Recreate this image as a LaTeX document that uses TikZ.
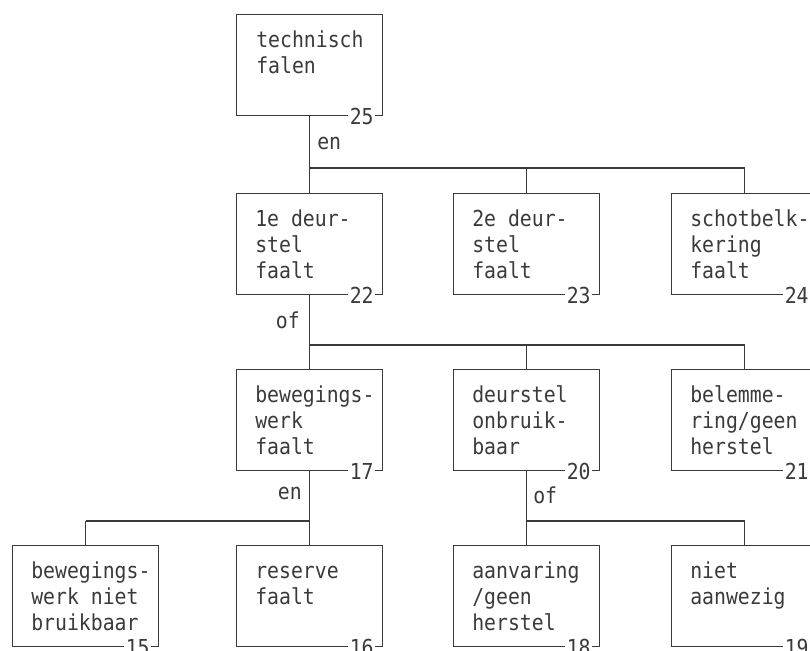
\documentclass[tikz,border=0pt]{standalone}
\usepackage{fontspec}
\newfontfamily\plotfont[FakeStretch=0.9]{DejaVu Sans Mono}
\definecolor{ink}{HTML}{3A3A3A}
\begin{document}
\begin{tikzpicture}[x=0.75pt,y=0.75pt,
  wire/.style={draw=ink,line width=0.9pt},
  eventbox/.style={draw=ink,line width=0.9pt,rectangle,minimum width=109.5pt,
    minimum height=75.75pt,inner sep=0pt,anchor=north west},
  boxtext/.style={anchor=north west,inner sep=0pt,align=left,text=ink,
    font=\plotfont\fontsize{16.5}{19.5}\selectfont},
  tag/.style={anchor=east,fill=white,inner sep=1pt,text=ink,
    font=\plotfont\fontsize{16.5}{19.5}\selectfont},
  gate/.style={inner sep=0pt,text=ink,font=\plotfont\fontsize{16.5}{19.5}\selectfont}]
\useasboundingbox (0,0) rectangle (810,-650);
\clip (0,0) rectangle (810,-650);

% event boxes (top-left corners)
\node[eventbox] (b25) at (236,-14) {};
\node[eventbox] (b22) at (236,-193) {};
\node[eventbox] (b23) at (453,-193) {};
\node[eventbox] (b24) at (671,-193) {};
\node[eventbox] (b17) at (236,-369) {};
\node[eventbox] (b20) at (453,-369) {};
\node[eventbox] (b21) at (671,-369) {};
\node[eventbox] (b15) at (12,-545) {};
\node[eventbox] (b16) at (236,-545) {};
\node[eventbox] (b18) at (453,-545) {};
\node[eventbox] (b19) at (671,-545) {};

% box texts
\node[boxtext] (t25) at ([shift={(20,-14.8)}]b25.north west) {\strut technisch\\falen};
\node[boxtext] (t22) at ([shift={(19,-14.8)}]b22.north west) {\strut 1e deur-\\stel\\faalt};
\node[boxtext] (t23) at ([shift={(19,-14.8)}]b23.north west) {\strut 2e deur-\\stel\\faalt};
\node[boxtext] (t24) at ([shift={(19,-14.8)}]b24.north west) {\strut schotbelk-\\kering\\faalt};
\node[boxtext] (t17) at ([shift={(19,-14.8)}]b17.north west) {\strut bewegings-\\werk\\faalt};
\node[boxtext] (t20) at ([shift={(19,-14.8)}]b20.north west) {\strut deurstel\\onbruik-\\baar};
\node[boxtext] (t21) at ([shift={(19,-14.8)}]b21.north west) {\strut belemme-\\ring/geen\\herstel};
\node[boxtext] (t15) at ([shift={(19,-14.8)}]b15.north west) {\strut bewegings-\\werk niet\\bruikbaar};
\node[boxtext] (t16) at ([shift={(19,-14.8)}]b16.north west) {\strut reserve\\faalt};
\node[boxtext] (t18) at ([shift={(19,-14.8)}]b18.north west) {\strut aanvaring\\/geen\\herstel};
\node[boxtext] (t19) at ([shift={(19,-14.8)}]b19.north west) {\strut niet\\aanwezig};

% event numbers on the bottom edges
\foreach \n in {25,22,23,24,17,20,21,15,16,18,19}
  \node[tag] (n\n) at ([xshift=-6pt]b\n.south east) {\n};

% junction points of the gates
\coordinate (j1) at (308,-168);
\coordinate (j2) at (308,-345);
\coordinate (j3) at (308,-521);
\coordinate (j4) at (525,-521);

% technisch falen: en-gate
\draw[wire] (b25.south) -- (b22.north);
\draw[wire] (b22.north |- j1) -- (b24.north |- j1);
\draw[wire] (b23.north |- j1) -- (b23.north);
\draw[wire] (b24.north |- j1) -- (b24.north);
\node[gate,anchor=west] (g1) at (317,-143) {en};

% 1e deurstel faalt: of-gate
\draw[wire] (b22.south) -- (b17.north);
\draw[wire] (b17.north |- j2) -- (b21.north |- j2);
\draw[wire] (b20.north |- j2) -- (b20.north);
\draw[wire] (b21.north |- j2) -- (b21.north);
\node[gate,anchor=east] (g2) at (300,-320) {of};

% bewegingswerk faalt: en-gate
\draw[wire] (b17.south) -- (b16.north);
\draw[wire] (b15.north |- j3) -- (b16.north |- j3);
\draw[wire] (b15.north |- j3) -- (b15.north);
\node[gate,anchor=east] (g3) at (302,-493) {en};

% deurstel onbruikbaar: of-gate
\draw[wire] (b20.south) -- (b18.north);
\draw[wire] (b18.north |- j4) -- (b19.north |- j4);
\draw[wire] (b19.north |- j4) -- (b19.north);
\node[gate,anchor=west] (g4) at (533,-495) {of};
\end{tikzpicture}
\end{document}
